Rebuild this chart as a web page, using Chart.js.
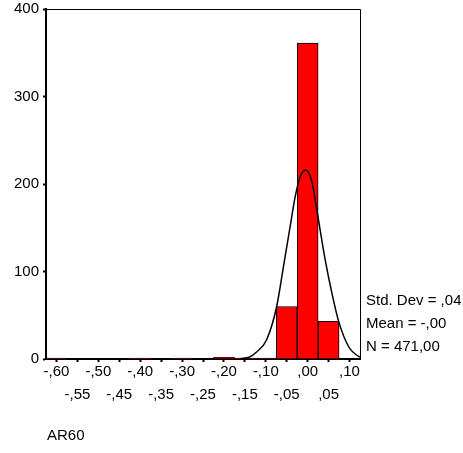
<!DOCTYPE html>
<html>
<head>
<meta charset="utf-8">
<script src="https://cdn.jsdelivr.net/npm/chart.js@4/dist/chart.umd.min.js"></script>
<style>
  body { margin: 0; background: #fff; }
</style>
</head>
<body>
<canvas id="hist" width="463" height="453"></canvas>
<script>
// histogram bins (centre of each bin) and their counts
const binCenters = [-0.60, -0.55, -0.50, -0.45, -0.40, -0.35, -0.30, -0.25, -0.20, -0.15, -0.10, -0.05, 0.00, 0.05, 0.10];
const counts     = [1, 0, 0, 0, 1, 0, 1, 0, 2, 1, 1, 60, 361, 43, 0];

// normal curve
const curveX = [-0.16, -0.14, -0.122, -0.098, -0.074, -0.058, -0.042, -0.030, -0.018, -0.005, 0.010, 0.022, 0.042, 0.058, 0.074, 0.098, 0.122, 0.14];
const curveY = [0.5, 2, 8, 22, 60, 105, 151, 185, 208, 216, 203, 170, 113, 75, 43, 14, 3, 1];

const xTicks = [-0.60, -0.55, -0.50, -0.45, -0.40, -0.35, -0.30, -0.25, -0.20, -0.15, -0.10, -0.05, 0.00, 0.05, 0.10];
const yTicks = [0, 100, 200, 300, 400];

const statLines = ['Std. Dev = ,04', 'Mean = -,00', 'N = 471,00'];
const varName = 'AR60';

function fmt(v) {
  let s = String(Math.round(Math.abs(v) * 100)).padStart(2, '0');
  return (v < -1e-9 ? '-' : '') + ',' + s;
}

const font = 'Liberation Sans, Arial, sans-serif';

const extras = {
  id: 'extras',
  afterDraw(chart) {
    const ctx = chart.ctx;
    const a = chart.chartArea;
    ctx.save();
    ctx.strokeStyle = '#000';
    ctx.lineWidth = 1;
    ctx.beginPath();
    ctx.moveTo(a.left, a.top + 0.5);
    ctx.lineTo(a.right + 0.5, a.top + 0.5);
    ctx.lineTo(a.right + 0.5, a.bottom);
    ctx.stroke();

    ctx.fillStyle = '#000';
    ctx.font = '15px ' + font;
    ctx.textBaseline = 'middle';
    ctx.textAlign = 'left';
    statLines.forEach((t, i) => {
      ctx.fillText(t, a.right + 6, a.bottom - 58 + i * 23);
    });
    ctx.fillText(varName, a.left + 1, a.bottom + 77);
    ctx.restore();
  }
};

const ctx = document.getElementById('hist');
const myChart = new Chart(ctx, {
  type: 'bar',
  data: {
    datasets: [
      {
        type: 'line',
        data: curveX.map((x, i) => ({ x: x, y: curveY[i] })),
        borderColor: '#000',
        borderWidth: 1.5,
        pointRadius: 0,
        cubicInterpolationMode: 'monotone',
        fill: false,
        order: 0
      },
      {
        data: binCenters.map((c, i) => ({ x: c, y: counts[i] })),
        backgroundColor: '#ff0000',
        borderColor: '#000',
        borderWidth: 1,
        barPercentage: 1,
        categoryPercentage: 1,
        order: 1
      }
    ]
  },
  options: {
    responsive: false,
    animation: false,
    layout: { padding: { top: 9, right: 103, bottom: 0, left: 0 } },
    plugins: {
      legend: { display: false },
      tooltip: { enabled: false }
    },
    scales: {
      x: {
        type: 'linear',
        min: -0.625,
        max: 0.125,
        offset: false,
        afterBuildTicks: s => { s.ticks = xTicks.map(v => ({ value: v })); },
        afterFit: s => { s.height = 94; s.paddingLeft = 0; s.paddingRight = 0; },
        grid: { display: true, drawOnChartArea: false, offset: false, tickLength: 3, tickWidth: 2, tickColor: '#000' },
        border: { display: true, color: '#000', width: 2 },
        ticks: {
          autoSkip: false,
          maxRotation: 0,
          padding: -2,
          color: '#000',
          font: { family: font, size: 15, lineHeight: 1.55 },
          callback: function(v) {
            let i = xTicks.findIndex(t => Math.abs(t - v) < 1e-6);
            return i % 2 === 0 ? [fmt(v), ''] : ['', fmt(v)];
          }
        }
      },
      y: {
        min: 0,
        max: 400,
        afterBuildTicks: s => { s.ticks = yTicks.map(v => ({ value: v })); },
        afterFit: s => { s.width = 46; s.paddingTop = 0; s.paddingBottom = 0; },
        grid: { display: true, drawOnChartArea: false, tickLength: 3, tickWidth: 2, tickColor: '#000' },
        border: { display: true, color: '#000', width: 2 },
        ticks: { padding: 4, color: '#000', font: { family: font, size: 15 } }
      }
    }
  },
  plugins: [extras]
});
</script>
</body>
</html>
